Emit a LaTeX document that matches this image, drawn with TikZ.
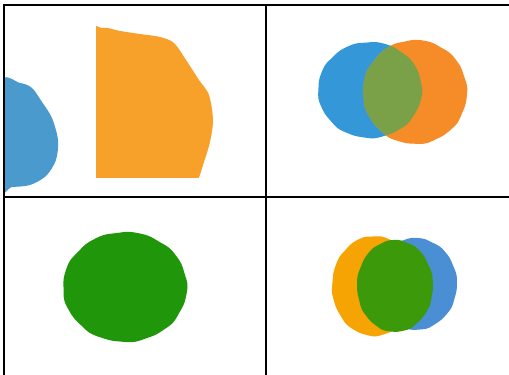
\documentclass[tikz,border=0pt]{standalone}
\definecolor{bluea}{RGB}{74,154,206}
\definecolor{orangea}{RGB}{247,161,42}
\definecolor{blueb}{RGB}{52,152,216}
\definecolor{orangeb}{RGB}{246,140,40}
\definecolor{oliveb}{RGB}{122,160,72}
\definecolor{greenc}{RGB}{32,150,11}
\definecolor{oranged}{RGB}{246,164,4}
\definecolor{blued}{RGB}{74,143,212}
\definecolor{greend}{RGB}{60,154,10}
\newcommand\blobpath[5]{plot[domain=0:355,samples=72,smooth cycle] ({#1+#3*(1+0.006*sin(9*\x+#5)+0.004*sin(17*\x+2*#5))*cos(\x)},{#2+#4*(1+0.006*sin(9*\x+#5)+0.004*sin(17*\x+2*#5))*sin(\x)})}
\tikzset{gridline/.style={line width=2pt,black}}
\begin{document}
\begin{tikzpicture}[x=1pt,y=-1pt]
\useasboundingbox (0,0) rectangle (509,375);
\fill[white] (0,0) rectangle (509,375);
% panel 1
\begin{scope}
\clip (4,0) rectangle (266,197);
\fill[bluea] plot[smooth cycle] coordinates {(0,84) (20,83) (32,88) (42,102) (52,118) (58,140) (56,160) (46,176) (30,185) (12,187) (0,187)};
\end{scope}
\begin{scope}
\clip (96,0) rectangle (266,177);
\fill[orangea] plot[smooth cycle] coordinates {(90,40) (103,28) (120,31) (140,34) (160,37) (174,43) (186,60) (199,80) (209,95) (213,120) (210,142) (204,162) (198,180) (190,195) (90,195)};
\end{scope}
% panel 2
\fill[blueb] \blobpath{370}{90}{52}{48}{40};
\fill[orangeb] \blobpath{415}{92}{52}{52}{100};
\begin{scope}
\clip \blobpath{370}{90}{52}{48}{40};
\fill[oliveb] \blobpath{415}{92}{52}{52}{100};
\end{scope}
% panel 3
\fill[greenc] \blobpath{125}{287}{62}{55}{70};
% panel 4
\fill[oranged] \blobpath{374}{286}{42}{50}{10};
\fill[blued] \blobpath{415}{284}{42}{46}{150};
\fill[greend] \blobpath{395}{286}{38}{46}{200};
% grid
\draw[gridline] (509,5) -- (4,5) -- (4,375);
\draw[gridline] (266,5) -- (266,375);
\draw[gridline] (4,197) -- (509,197);
\end{tikzpicture}
\end{document}
